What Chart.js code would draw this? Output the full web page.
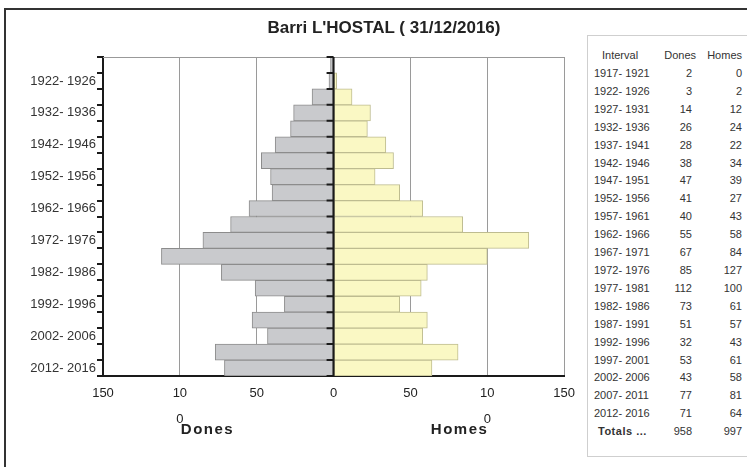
<!DOCTYPE html>
<html>
<head>
<meta charset="utf-8">
<script src="https://cdn.jsdelivr.net/npm/chart.js@4"></script>
<style>
  body { margin:0; background:#fff; font-family:"Liberation Sans", Arial, sans-serif; }
  #wrap { position:absolute; left:0; top:0; width:580px; height:467px; }
  #frameTop { position:absolute; left:4px; top:8px; width:743px; height:2px; background:#333; }
  #frameLeft { position:absolute; left:4px; top:8px; width:2px; height:459px; background:#333; }
  #title { position:absolute; left:200px; width:368px; top:18px; text-align:center;
           font-weight:bold; font-size:17px; color:#222; }
  #panel { position:absolute; left:587px; top:35px; width:170px; height:422px;
           border:1px solid #cfcfcf; box-sizing:border-box; }
  #tbl { position:absolute; left:0; top:9px; border-collapse:collapse; table-layout:fixed;
         width:154px; font-size:11px; color:#333; }
  #tbl td { padding:0; height:17.9px; line-height:17.9px; white-space:nowrap; color:#333; overflow:visible; }
  #tbl tr.head td { height:20px; line-height:20px; }
  #tbl td.n { text-align:right; }
</style>
</head>
<body>
<div id="wrap"><canvas id="myChart"></canvas></div>
<div id="frameTop"></div>
<div id="frameLeft"></div>
<div id="title">Barri L'HOSTAL ( 31/12/2016)</div>
<div id="panel"><table id="tbl">
  <colgroup><col style="width:63px"><col style="width:45px"><col style="width:46px"></colgroup>
</table></div>
<script>
// intervals, top to bottom
const intervals = ["1917- 1921","1922- 1926","1927- 1931","1932- 1936","1937- 1941",
  "1942- 1946","1947- 1951","1952- 1956","1957- 1961","1962- 1966","1967- 1971",
  "1972- 1976","1977- 1981","1982- 1986","1987- 1991","1992- 1996","1997- 2001",
  "2002- 2006","2007- 2011","2012- 2016"];
const dones = [2,3,14,26,28,38,47,41,40,55,67,85,112,73,51,32,53,43,77,71];
const homes = [0,2,12,24,22,34,39,27,43,58,84,127,100,61,57,43,61,58,81,64];
const xTicks = [-150,-100,-50,0,50,100,150];

// table on the right
let tbl = document.getElementById('tbl');
let html = '<tr class="head"><td style="padding-left:14px">Interval</td>' +
  '<td class="n">Dones</td><td class="n" style="padding-right:0">Homes</td></tr>';
intervals.forEach((iv, i) => {
  html += `<tr><td style="padding-left:6px">${iv}</td><td class="n" style="padding-right:4px">${dones[i]}</td><td class="n">${homes[i]}</td></tr>`;
});
const sum = arr => arr.reduce((a, b) => a + b, 0);
html += `<tr><td style="padding-left:10px;font-weight:bold;letter-spacing:0.5px">Totals ...</td><td class="n" style="padding-right:4px">${sum(dones)}</td><td class="n">${sum(homes)}</td></tr>`;
tbl.insertAdjacentHTML('beforeend', html);

// center axis, top border and the two axis titles
const decor = {
  id: 'decor',
  afterDatasetsDraw(chart) {
    const ctx = chart.ctx, area = chart.chartArea;
    const xs = chart.scales.x, ys = chart.scales.y;
    ctx.save();
    ctx.strokeStyle = '#999';
    ctx.lineWidth = 1;
    ctx.beginPath();
    ctx.moveTo(area.left, area.top + 0.5);
    ctx.lineTo(area.right, area.top + 0.5);
    ctx.stroke();
    let x0 = xs.getPixelForValue(0);
    ctx.strokeStyle = '#1a1a1a';
    ctx.lineWidth = 2;
    ctx.beginPath();
    ctx.moveTo(x0, area.top);
    ctx.lineTo(x0, area.bottom);
    for (let i = 0; i <= intervals.length; i++) {
      let y = ys.getPixelForValue(i - 0.5);
      ctx.moveTo(x0 - 7, y);
      ctx.lineTo(x0, y);
    }
    ctx.stroke();
    ctx.fillStyle = '#222';
    ctx.font = 'bold 15px "Liberation Sans", Arial, sans-serif';
    ctx.letterSpacing = '1.5px';
    ctx.textAlign = 'center';
    ctx.textBaseline = 'middle';
    ctx.fillText('Dones', xs.getPixelForValue(-82), 430);
    ctx.fillText('Homes', xs.getPixelForValue(82), 430);
    ctx.restore();
  }
};

let myChart = new Chart(document.getElementById('myChart'), {
  type: 'bar',
  data: {
    labels: intervals,
    datasets: [{
      label: 'Dones',
      data: dones.map(v => -v),
      backgroundColor: '#c9cacd',
      borderColor: '#8c8c8c',
      borderWidth: 1,
      borderSkipped: false,
      barPercentage: 1,
      categoryPercentage: 1
    }, {
      label: 'Homes',
      data: homes,
      backgroundColor: '#faf8c4',
      borderColor: '#bebc90',
      borderWidth: 1,
      borderSkipped: false,
      barPercentage: 1,
      categoryPercentage: 1
    }]
  },
  options: {
    indexAxis: 'y',
    responsive: true,
    maintainAspectRatio: false,
    animation: false,
    layout: { padding: { left: 0, top: 57, right: 9, bottom: 0 } },
    plugins: { legend: { display: false }, tooltip: { enabled: false }, title: { display: false } },
    scales: {
      x: {
        stacked: true,
        min: -150, max: 150,
        afterBuildTicks: scale => { scale.ticks = xTicks.map(v => ({ value: v })); },
        afterFit: scale => { scale.height = 91; },
        grid: { color: '#9a9a9a', lineWidth: 1, drawTicks: false },
        border: { color: '#1a1a1a', width: 2 },
        ticks: {
          padding: 5,
          color: '#222',
          font: { family: '"Liberation Sans", Arial, sans-serif', size: 13, lineHeight: 1.95 },
          callback: v => Math.abs(v) === 100 ? ['10', '0'] : String(Math.abs(v))
        }
      },
      y: {
        stacked: true,
        afterFit: scale => { scale.width = 103; },
        grid: { drawOnChartArea: false, drawTicks: true, tickLength: 6, color: '#1a1a1a', lineWidth: 2 },
        border: { color: '#1a1a1a', width: 2 },
        ticks: {
          autoSkip: false,
          padding: 1,
          color: '#333',
          font: { family: '"Liberation Sans", Arial, sans-serif', size: 13 },
          callback: (v, i) => i % 2 === 1 ? intervals[i] : ''
        }
      }
    }
  },
  plugins: [decor]
});
</script>
</body>
</html>
